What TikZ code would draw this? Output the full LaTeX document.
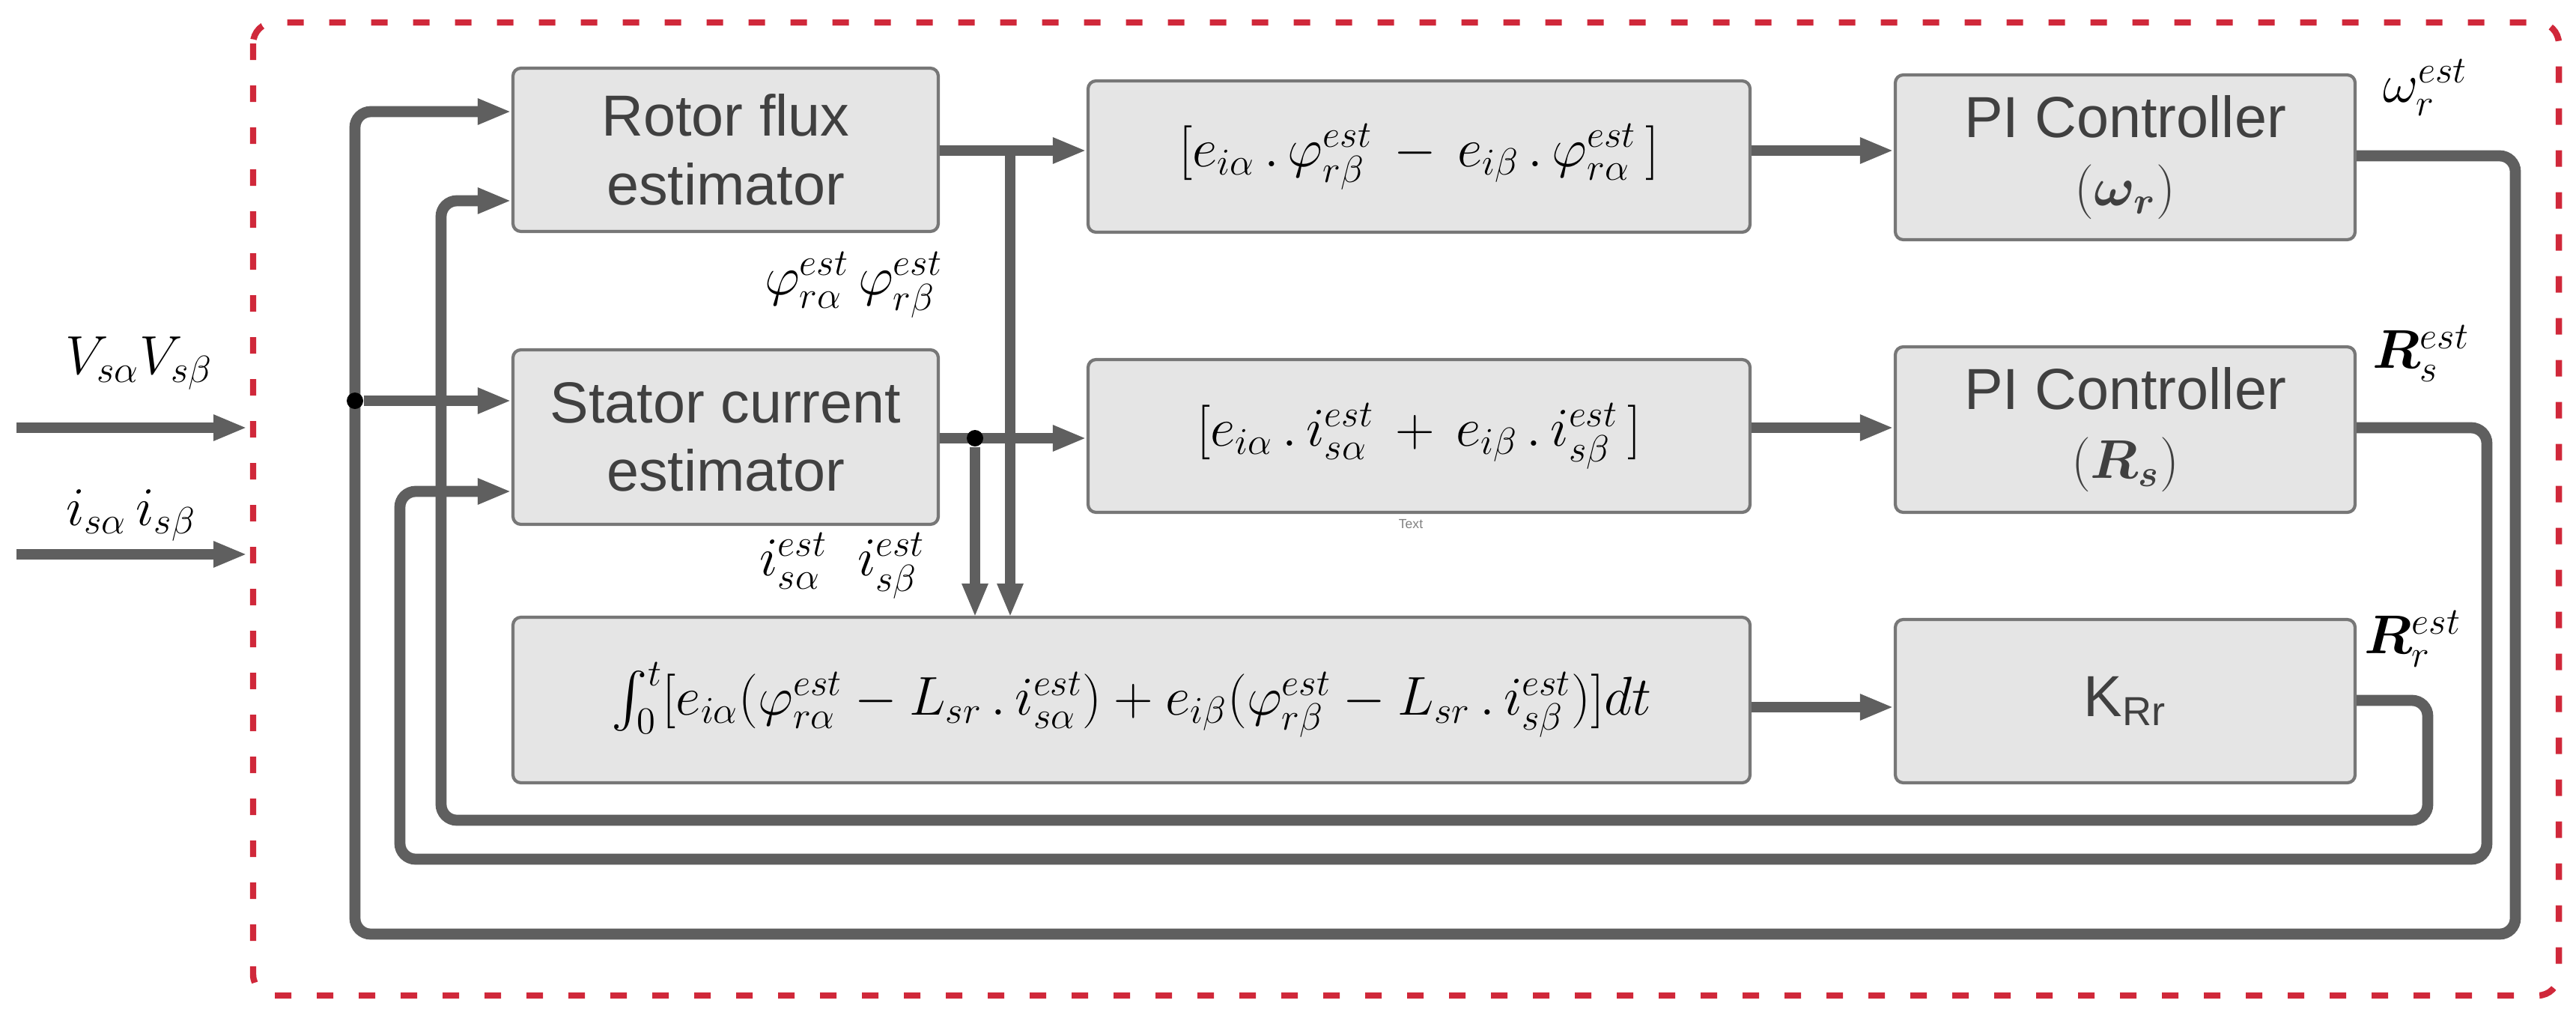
\documentclass[tikz,border=0pt]{standalone}
\usepackage{amsmath}
\usepackage{bm}
\usepackage{fontspec}
\newfontfamily\sansf{Liberation Sans}
\usetikzlibrary{arrows.meta}
\definecolor{ln}{HTML}{5F5F5F}
\definecolor{bx}{HTML}{E5E5E5}
\definecolor{rd}{HTML}{D0283A}
\begin{document}
\begin{tikzpicture}[x=1cm,y=-1cm,
  box/.style={draw=ln!85,fill=bx,line width=1.2pt,rounded corners=3pt,inner sep=0pt},
  txt/.style={font=\sansf\fontsize{22}{26}\selectfont,text=black!75,align=center},
  eq/.style={font=\fontsize{22}{26}\selectfont},
  wire/.style={draw=ln,line width=4.2pt,rounded corners=6pt},
  arr/.style={wire,-{Triangle[length=0.45cm,width=0.32cm]}},
  dot/.style={circle,fill=black,inner sep=0pt,minimum size=0.22cm}]
\useasboundingbox (0,0) rectangle (34.4,13.51);
\draw[rd,line width=2.4pt,dash pattern=on 0.22cm off 0.34cm,rounded corners=8pt] (3.38,0.30) rectangle (34.17,13.29);
% boxes
\node[box,txt,minimum width=5.68cm,minimum height=2.18cm] (rf) at (9.69,2.00) {Rotor flux\\estimator};
\node[box,txt,minimum width=5.68cm,minimum height=2.33cm] (sc) at (9.69,5.835) {Stator current\\estimator};
\node[box,eq,minimum width=8.84cm,minimum height=2.02cm] (b1) at (18.95,2.09) {$[e_{i\alpha}\,.\,\varphi^{est}_{r\beta}\,-\,e_{i\beta}\,.\,\varphi^{est}_{r\alpha}\,]$};
\node[box,eq,minimum width=8.84cm,minimum height=2.04cm] (b2) at (18.95,5.82) {$[e_{i\alpha}\,.\,i^{est}_{s\alpha}\,+\,e_{i\beta}\,.\,i^{est}_{s\beta}\,]$};
\node[box,minimum width=16.52cm,minimum height=2.21cm,font=\fontsize{20}{24}\selectfont] (b3) at (15.11,9.345) {$\int_0^t[e_{i\alpha}(\varphi^{est}_{r\alpha}-L_{sr}\,.\,i^{est}_{s\alpha})+e_{i\beta}(\varphi^{est}_{r\beta}-L_{sr}\,.\,i^{est}_{s\beta})]dt$};
\node[box,txt,minimum width=6.14cm,minimum height=2.20cm] (p1) at (28.38,2.10) {PI Controller\\$(\bm{\omega_r})$};
\node[box,txt,minimum width=6.14cm,minimum height=2.21cm] (p2) at (28.38,5.735) {PI Controller\\$(\bm{R_s})$};
\node[box,txt,minimum width=6.14cm,minimum height=2.18cm] (p3) at (28.38,9.36) {K\textsubscript{Rr}};
\node[font=\sansf\tiny,text=black!50] (tx) at (18.84,7.00) {Text};
% inputs
\coordinate (v0) at (0.22,5.71); \coordinate (v1) at (3.30,5.71);
\coordinate (i0) at (0.22,7.40); \coordinate (i1) at (3.30,7.40);
\draw[arr] (v0) -- (v1); \draw[arr] (i0) -- (i1);
\node[eq] (lv) at (1.86,4.85) {$V_{s\alpha}V_{s\beta}$};
\node[eq] (li) at (1.75,6.88) {$i_{s\alpha}\,i_{s\beta}$};
% outer loop omega
\draw[arr] (p1.east |- 0,2.08) -| (33.59,12.47) -| (4.74,1.49) -- (rf.west |- 0,1.49);
\node[dot] (d1) at (4.74,5.35) {};
\draw[arr] (d1) -- (sc.west |- d1);
% Rs loop
\draw[arr] (p2.east |- 0,5.71) -| (33.21,11.47) -| (5.34,6.56) -- (sc.west |- 0,6.56);
% Rr loop
\draw[arr] (p3.east |- 0,9.35) -| (32.42,10.95) -| (5.89,2.68) -- (rf.west |- 0,2.68);
% estimator outputs
\draw[arr] (rf.east |- 0,2.01) -- (b1.west |- 0,2.01);
\draw[arr] (13.49,2.01) -- (13.49,8.24);
\draw[arr] (sc.east |- 0,5.85) -- (b2.west |- 0,5.85);
\node[dot] (d2) at (13.02,5.85) {};
\draw[arr] (d2) -- (13.02,8.24);
% to controllers
\draw[arr] (b1.east |- 0,2.01) -- (p1.west |- 0,2.01);
\draw[arr] (b2.east |- 0,5.71) -- (p2.west |- 0,5.71);
\draw[arr] (b3.east |- 0,9.44) -- (p3.west |- 0,9.44);
% labels
\node[eq] (lphi) at (11.40,3.80) {$\varphi^{est}_{r\alpha}\,\varphi^{est}_{r\beta}$};
\node[eq] (lis) at (11.25,7.55) {$i^{est}_{s\alpha}\;\;i^{est}_{s\beta}$};
\node[eq] (lw) at (32.39,1.17) {$\omega^{est}_r$};
\node[eq] (lrs) at (32.33,4.72) {$\bm{R}^{est}_{s}$};
\node[eq] (lrr) at (32.22,8.53) {$\bm{R}^{est}_{r}$};
\end{tikzpicture}
\end{document}
